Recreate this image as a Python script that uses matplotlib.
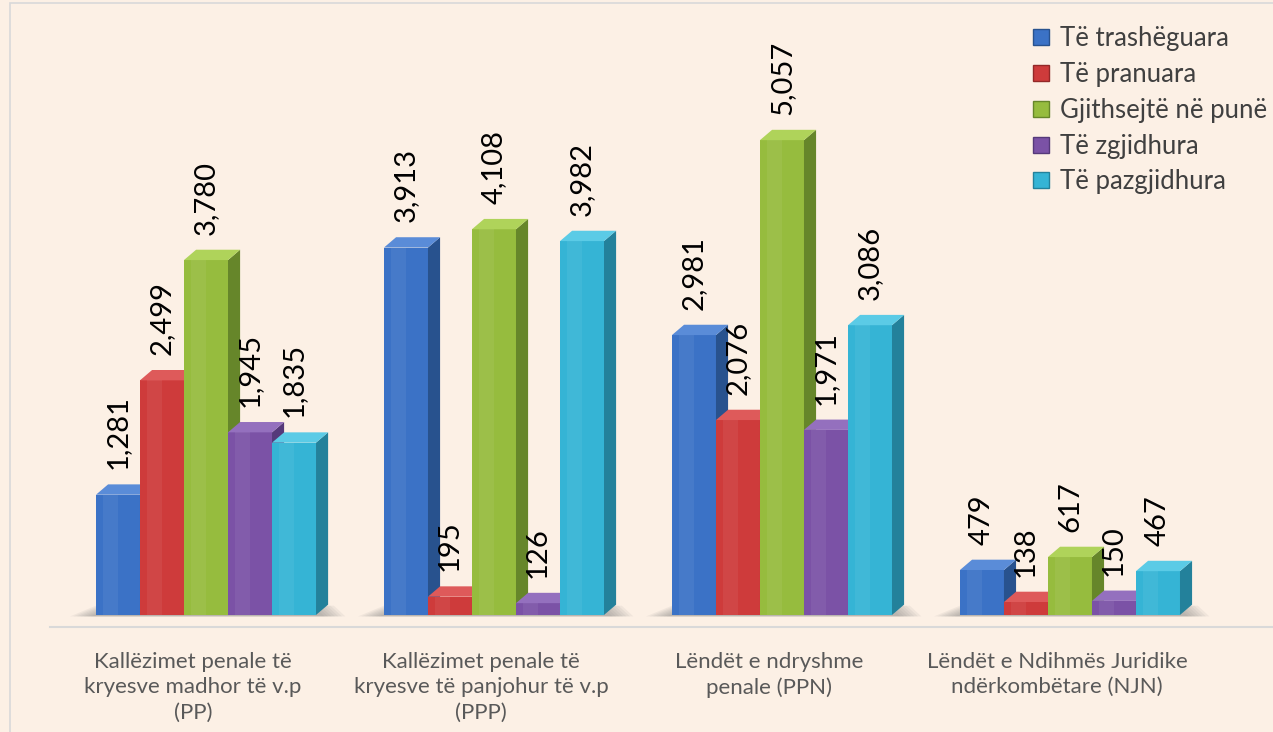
import matplotlib.pyplot as plt
from matplotlib.patches import Polygon, Rectangle
import numpy as np

categories = [
    "Kallëzimet penale të\nkryesve madhor të v.p\n(PP)",
    "Kallëzimet penale të\nkryesve të panjohur të v.p\n(PPP)",
    "Lëndët e ndryshme\npenale (PPN)",
    "Lëndët e Ndihmës Juridike\nndërkombëtare (NJN)",
]
series_names = ["Të trashëguara", "Të pranuara", "Gjithsejtë në punë",
                "Të zgjidhura", "Të pazgjidhura"]
trasheguara = [1281, 3913, 2981, 479]
pranuara = [2499, 195, 2076, 138]
gjithsejte = [3780, 4108, 5057, 617]
zgjidhura = [1945, 126, 1971, 150]
pazgjidhura = [1835, 3982, 3086, 467]
series = [trasheguara, pranuara, gjithsejte, zgjidhura, pazgjidhura]

front = ['#3B72C6', '#CE3B3B', '#96BC3E', '#7B52A6', '#35B4D5']
side = ['#28528E', '#932828', '#66862A', '#55397A', '#23819B']
top = ['#5A8CD8', '#DE5A5A', '#AFD35A', '#9470BE', '#5BCBE6']

bg = '#FCF0E5'
plt.rcParams['font.family'] = ['Lato', 'DejaVu Sans']

fig = plt.figure(figsize=(12.73, 7.32), dpi=100, facecolor=bg)
W, H = 1273, 732
ax = fig.add_axes([50 / W, (H - 627) / H, (W - 50) / W, 617 / H])
ax.set_facecolor(bg)
ax.set_xlim(-0.5417, 3.705)
ax.set_ylim(-128, 6443)

# frame line of the chart area
fig.patches.append(Rectangle((10 / W, -0.1), 1.1, (H - 3) / H + 0.1,
                             transform=fig.transFigure, fill=False,
                             edgecolor='#D9D9D9', lw=1.2, zorder=0))

w = 0.1528
dx = 0.042
dy = 110
x = np.arange(len(categories))
offsets = (np.arange(len(series)) - 2) * w

# floor shadow under each group
for g in x:
    left = g + offsets[0] - w / 2
    right = g + offsets[-1] + w / 2 + dx
    for k in range(7):
        s = k * 0.012
        ax.add_patch(Polygon([(left - 0.09 + s, -15), (right + 0.06 - s, -15),
                              (right + 0.02 - s, dy * 0.9), (left + s, dy * 0.9)],
                             closed=True, facecolor='#6F6F6F', alpha=0.08,
                             edgecolor='none', zorder=1))

for i, vals in enumerate(series):
    xs = x + offsets[i]
    z = 2 + i
    ax.bar(xs, vals, width=w, color=front[i], edgecolor='none', zorder=z,
           label=series_names[i])
    for xc, v in zip(xs, vals):
        r = xc + w / 2
        l = xc - w / 2
        ax.add_patch(Polygon([(r, 0), (r + dx, dy), (r + dx, v + dy), (r, v)],
                             closed=True, facecolor=side[i], edgecolor='none', zorder=z))
        ax.add_patch(Polygon([(l, v), (r, v), (r + dx, v + dy), (l + dx, v + dy)],
                             closed=True, facecolor=top[i], edgecolor='none', zorder=z))
        # soft highlight on the front face
        ax.add_patch(Rectangle((l + w * 0.15, 0), w * 0.35, v, facecolor='white',
                               alpha=0.06, edgecolor='none', zorder=z))
        ax.text(xc, v + dy + 160, f"{v:,}", rotation=90, ha='center',
                va='bottom', fontsize=21, color='black', zorder=20)

for g, name in zip(x, categories):
    ax.text(g - 0.045, -0.04, name, transform=ax.get_xaxis_transform(),
            ha='center', va='top', fontsize=16, color='#595959',
            linespacing=1.35)

ax.set_xticks([])
ax.set_yticks([])
for s in ['top', 'right', 'left']:
    ax.spines[s].set_visible(False)
ax.spines['bottom'].set_color('#D9D9D9')
ax.spines['bottom'].set_linewidth(1.5)

handles = [plt.Line2D([], [], marker='s', linestyle='none', markersize=12,
                      markerfacecolor=front[i], markeredgecolor=side[i])
           for i in range(len(series))]
fig.legend(handles, series_names, loc='upper left',
           bbox_to_anchor=(1018 / W, (H - 16) / H), frameon=False,
           fontsize=18.5, labelcolor='#404040', handletextpad=0.25,
           handlelength=1.0, labelspacing=0.42, borderaxespad=0)

fig.savefig('out.png', dpi=100, facecolor=bg)
